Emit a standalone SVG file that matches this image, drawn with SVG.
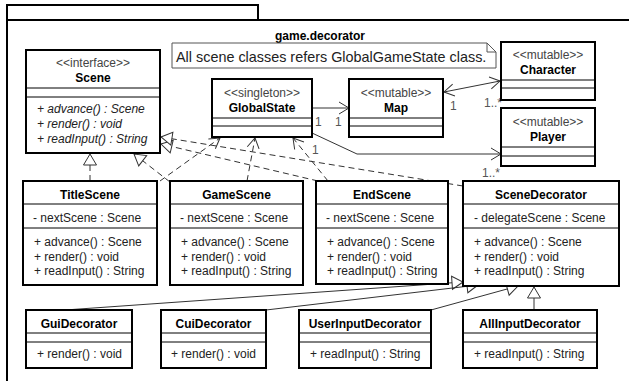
<svg xmlns="http://www.w3.org/2000/svg" width="629" height="381" viewBox="0 0 629 381">
<style>
.box{fill:#fff;stroke:#000;stroke-width:2}
.dv{stroke:#000;stroke-width:1}
text{font-family:"Liberation Sans",Arial,sans-serif;font-size:12px;fill:#222}
.t{font-weight:bold;fill:#000;text-anchor:middle}
.st{text-anchor:middle;fill:#444}
.it{font-style:italic}
.lbl{fill:#555}
.dash{fill:none;stroke:#333;stroke-width:1;stroke-dasharray:6,4}
.sol{fill:none;stroke:#333;stroke-width:1}
</style>
<defs>
<marker id="open" markerUnits="userSpaceOnUse" markerWidth="14" markerHeight="14" refX="11" refY="7" orient="auto-start-reverse" overflow="visible"><path d="M1,1 L11,7 L1,13" fill="none" stroke="#333" stroke-width="1"/></marker>
<marker id="tri" markerUnits="userSpaceOnUse" markerWidth="14" markerHeight="16" refX="12" refY="7" orient="auto" overflow="visible"><path d="M1,0.5 L12,7 L1,13.5 Z" fill="#fff" stroke="#333" stroke-width="1"/></marker>
</defs>
<rect width="629" height="381" fill="#fff"/>
<g id="package">
<path d="M7,381 V5 H258 V20 M7,20 H629" fill="none" stroke="#000" stroke-width="2"/>
<text x="320" y="40" class="t">game.decorator</text>
</g>
<g id="note">
<path d="M172,43 H487 L496,52 V68 H172 Z" fill="#fff" stroke="#555"/>
<path d="M487,43 V52 H496" fill="none" stroke="#555"/>
<text x="176" y="62" style="font-size:14.4px">All scene classes refers GlobalGameState class.</text>
</g>
<g id="connectors">
<path class="dash" d="M90,181 L90,154" marker-end="url(#tri)"/>
<path class="dash" d="M170,182 L134,154" marker-end="url(#tri)"/>
<path class="dash" d="M318,181 L161,144" marker-end="url(#tri)"/>
<path class="dash" d="M463,186 L161,137" marker-end="url(#tri)"/>
<path class="dash" d="M160,181 L220,138" marker-end="url(#open)"/>
<path class="dash" d="M247,181 L255,138" marker-end="url(#open)"/>
<path class="dash" d="M328,181 L293,138" marker-end="url(#open)"/>
<path class="sol" d="M312,108 H349" marker-end="url(#open)"/>
<path class="sol" d="M444,92 L500,81" marker-start="url(#open)" marker-end="url(#open)"/>
<path class="sol" d="M312,133 L357,154 H501" marker-end="url(#open)"/>
<path class="sol" d="M65,310 L463,282" marker-end="url(#tri)"/>
<path class="sol" d="M266,310 L478,285" marker-end="url(#tri)"/>
<path class="sol" d="M431,310 L518,286" marker-end="url(#tri)"/>
<path class="sol" d="M534,310 V287" marker-end="url(#tri)"/>
<text x="315" y="126" class="lbl">1</text>
<text x="335" y="126" class="lbl">1</text>
<text x="450" y="110" class="lbl">1</text>
<text x="484" y="107" class="lbl">1..*</text>
<text x="312" y="154" class="lbl">1</text>
<text x="482" y="177" class="lbl">1..*</text>
</g>
<g id="Scene">
<rect class="box" x="26" y="50" width="134" height="103"/>
<line class="dv" x1="26" y1="88" x2="160" y2="88"/><line class="dv" x1="26" y1="97" x2="160" y2="97"/>
<text x="93" y="67" class="st">&lt;&lt;interface&gt;&gt;</text>
<text x="93" y="82" class="t">Scene</text>
<text x="37" y="113" class="it">+ advance() : Scene</text>
<text x="37" y="128" class="it">+ render() : void</text>
<text x="37" y="143" class="it">+ readInput() : String</text>
</g>
<g id="GlobalState">
<rect class="box" x="212" y="79" width="100" height="58"/>
<line class="dv" x1="212" y1="118" x2="312" y2="118"/><line class="dv" x1="212" y1="126" x2="312" y2="126"/>
<text x="262" y="97" class="st">&lt;&lt;singleton&gt;&gt;</text>
<text x="262" y="112" class="t">GlobalState</text>
</g>
<g id="Map">
<rect class="box" x="349" y="79" width="94" height="58"/>
<line class="dv" x1="349" y1="118" x2="443" y2="118"/><line class="dv" x1="349" y1="126" x2="443" y2="126"/>
<text x="396" y="97" class="st">&lt;&lt;mutable&gt;&gt;</text>
<text x="396" y="112" class="t">Map</text>
</g>
<g id="Character">
<rect class="box" x="501" y="42" width="94" height="58"/>
<line class="dv" x1="501" y1="80" x2="595" y2="80"/><line class="dv" x1="501" y1="88" x2="595" y2="88"/>
<text x="548" y="59" class="st">&lt;&lt;mutable&gt;&gt;</text>
<text x="548" y="74" class="t">Character</text>
</g>
<g id="Player">
<rect class="box" x="501" y="108" width="94" height="58"/>
<line class="dv" x1="501" y1="147" x2="595" y2="147"/><line class="dv" x1="501" y1="156" x2="595" y2="156"/>
<text x="548" y="126" class="st">&lt;&lt;mutable&gt;&gt;</text>
<text x="548" y="141" class="t">Player</text>
</g>
<g id="TitleScene">
<rect class="box" x="23" y="181" width="134" height="104"/>
<line class="dv" x1="23" y1="204" x2="157" y2="204"/><line class="dv" x1="23" y1="228" x2="157" y2="228"/>
<text x="90" y="199" class="t">TitleScene</text>
<text x="33" y="222">- nextScene : Scene</text>
<text x="34" y="246">+ advance() : Scene</text>
<text x="34" y="261">+ render() : void</text>
<text x="34" y="275">+ readInput() : String</text>
</g>
<g id="GameScene">
<rect class="box" x="170" y="181" width="133" height="104"/>
<line class="dv" x1="170" y1="204" x2="303" y2="204"/><line class="dv" x1="170" y1="228" x2="303" y2="228"/>
<text x="236.5" y="199" class="t">GameScene</text>
<text x="180" y="222">- nextScene : Scene</text>
<text x="181" y="246">+ advance() : Scene</text>
<text x="181" y="261">+ render() : void</text>
<text x="181" y="275">+ readInput() : String</text>
</g>
<g id="EndScene">
<rect class="box" x="316" y="181" width="132" height="103"/>
<line class="dv" x1="316" y1="204" x2="448" y2="204"/><line class="dv" x1="316" y1="228" x2="448" y2="228"/>
<text x="382" y="199" class="t">EndScene</text>
<text x="326" y="222">- nextScene : Scene</text>
<text x="327" y="246">+ advance() : Scene</text>
<text x="327" y="261">+ render() : void</text>
<text x="327" y="275">+ readInput() : String</text>
</g>
<g id="SceneDecorator">
<rect class="box" x="463" y="181" width="156" height="105"/>
<line class="dv" x1="463" y1="204" x2="619" y2="204"/><line class="dv" x1="463" y1="228" x2="619" y2="228"/>
<text x="541" y="199" class="t">SceneDecorator</text>
<text x="474" y="222">- delegateScene : Scene</text>
<text x="474" y="246">+ advance() : Scene</text>
<text x="474" y="261">+ render() : void</text>
<text x="474" y="275">+ readInput() : String</text>
</g>
<g id="GuiDecorator">
<rect class="box" x="26" y="310" width="106" height="58"/>
<line class="dv" x1="26" y1="333" x2="132" y2="333"/><line class="dv" x1="26" y1="342" x2="132" y2="342"/>
<text x="79" y="328" class="t">GuiDecorator</text>
<text x="37" y="358">+ render() : void</text>
</g>
<g id="CuiDecorator">
<rect class="box" x="161" y="310" width="105" height="58"/>
<line class="dv" x1="161" y1="333" x2="266" y2="333"/><line class="dv" x1="161" y1="342" x2="266" y2="342"/>
<text x="213.5" y="328" class="t">CuiDecorator</text>
<text x="171" y="358">+ render() : void</text>
</g>
<g id="UserInputDecorator">
<rect class="box" x="299" y="310" width="132" height="58"/>
<line class="dv" x1="299" y1="333" x2="431" y2="333"/><line class="dv" x1="299" y1="342" x2="431" y2="342"/>
<text x="365" y="328" class="t">UserInputDecorator</text>
<text x="310" y="358">+ readInput() : String</text>
</g>
<g id="AllInputDecorator">
<rect class="box" x="463" y="310" width="134" height="58"/>
<line class="dv" x1="463" y1="333" x2="597" y2="333"/><line class="dv" x1="463" y1="342" x2="597" y2="342"/>
<text x="530" y="328" class="t">AllInputDecorator</text>
<text x="474" y="358">+ readInput() : String</text>
</g>
</svg>
